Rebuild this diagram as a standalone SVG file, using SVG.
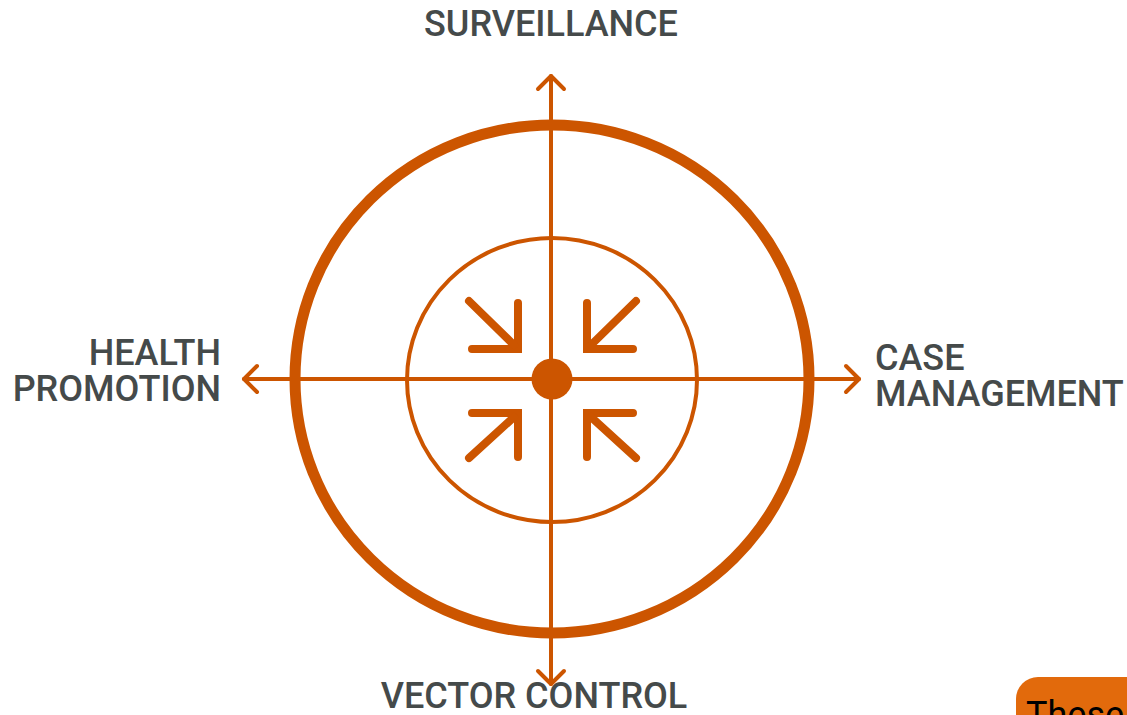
<svg xmlns="http://www.w3.org/2000/svg" width="1127" height="715" viewBox="0 0 1127 715">
<style>
.lbl{font-family:Roboto,"Liberation Sans",sans-serif;font-weight:500;font-size:36px;fill:#454a4a}
.ax{stroke:#cc5500;stroke-width:4;fill:none;stroke-linecap:round;stroke-linejoin:round}
.ar{stroke:#cc5500;stroke-width:8;fill:none;stroke-linecap:round;stroke-linejoin:miter}
</style>
<rect width="1127" height="715" fill="#ffffff"/>
<g id="target">
<ellipse cx="552" cy="379" rx="257" ry="254" fill="none" stroke="#cc5500" stroke-width="11"/>
<ellipse cx="552" cy="380" rx="145" ry="142" fill="none" stroke="#cc5500" stroke-width="4"/>
</g>
<g id="connectors">
<line class="ax" x1="551" y1="76" x2="551" y2="684"/>
<polyline class="ax" points="538,89 551,76 564,89"/>
<polyline class="ax" points="538,671 551,684 564,671"/>
<line class="ax" x1="244" y1="379" x2="859" y2="379"/>
<polyline class="ax" points="257,366 244,379 257,392"/>
<polyline class="ax" points="846,366 859,379 846,392"/>
</g>
<g id="center">
<circle cx="552" cy="379" r="20.5" fill="#cc5500"/>
<polyline class="ar" points="518,303 518,349 472,349"/>
<line class="ar" x1="469" y1="301" x2="514" y2="345"/>
<polyline class="ar" points="587,303 587,349 633,349"/>
<line class="ar" x1="636" y1="301" x2="591" y2="345"/>
<polyline class="ar" points="518,457 518,413 472,413"/>
<line class="ar" x1="469" y1="458" x2="514" y2="417"/>
<polyline class="ar" points="587,457 587,413 633,413"/>
<line class="ar" x1="636" y1="458" x2="591" y2="417"/>
</g>
<g id="surveillance"><text class="lbl" x="551" y="36" text-anchor="middle">SURVEILLANCE</text></g>
<g id="health-promotion"><text class="lbl" x="221" y="365" text-anchor="end">HEALTH</text><text class="lbl" x="221" y="401" text-anchor="end">PROMOTION</text></g>
<g id="case-management"><text class="lbl" x="875" y="370">CASE</text><text class="lbl" x="875" y="406">MANAGEMENT</text></g>
<g id="vector-control"><text class="lbl" x="534" y="708" text-anchor="middle">VECTOR CONTROL</text></g>
<g id="note">
<rect x="1016" y="677" width="160" height="80" rx="22" fill="#e26a0c"/>
<text x="1026" y="727" font-family="Roboto,'Liberation Sans',sans-serif" font-size="36" fill="#000000">These</text>
</g>
</svg>
